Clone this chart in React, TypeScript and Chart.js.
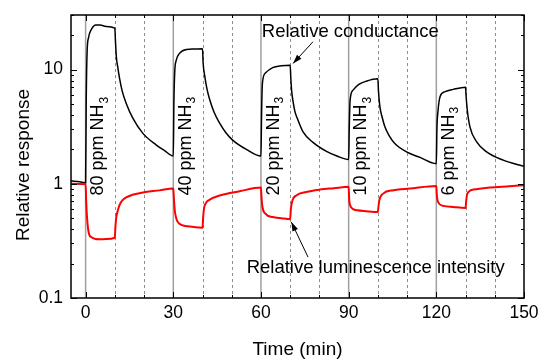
import React, { useEffect, useRef } from 'react';
import { Chart, registerables } from 'chart.js';

Chart.register(...registerables);

// Relative conductance (black)
const condT = [-5, -2, 0, 0.2, 0.5, 1, 2, 3.5, 5, 7, 10,
  10.2, 10.5, 11, 11.6, 12.5, 13.9, 16.2, 19.6, 24.2, 27, 30,
  30.2, 30.5, 31, 32.2, 34.5, 37, 40,
  40.2, 40.8, 41.5, 42.5, 44, 45.9, 48, 50.4, 55, 60,
  60.2, 60.5, 61.5, 64, 67, 70,
  70.2, 70.5, 71, 71.6, 72.5, 74.4, 77.8, 82.4, 86, 90,
  90.2, 90.5, 91.5, 93.5, 96, 100,
  100.2, 100.7, 101.5, 102.4, 104, 105.8, 109.8, 114.4, 120,
  120.2, 120.6, 121.3, 123, 125.8, 130,
  130.2, 130.6, 131.5, 133.8, 137.2, 142.9, 150];
const condV = [1.06, 1.04, 1.02, 5, 14, 19, 22.5, 24.5, 24.5, 23.8, 23.0,
  18, 13, 10.5, 8.4, 6.5, 5.05, 3.73, 2.76, 2.18, 1.95, 1.75,
  5, 9.6, 12, 13.9, 15.0, 15.1, 15.2,
  11.5, 8.65, 6.8, 5.4, 4.2, 3.37, 2.8, 2.4, 2.0, 1.75,
  4, 7.6, 9.3, 10.4, 10.8, 10.9,
  8.5, 6.5, 5.2, 4.3, 3.7, 2.85, 2.3, 1.92, 1.75, 1.63,
  3, 5.4, 6.6, 7.4, 7.9, 8.3,
  6.5, 4.7, 3.8, 3.15, 2.6, 2.25, 1.9, 1.7, 1.5,
  3, 4.4, 5.8, 6.4, 6.7, 7.0,
  5.8, 4.4, 3.15, 2.33, 1.9, 1.61, 1.42];

// Relative luminescence intensity (red)
const lumT = [-5, 0, 0.2, 0.5, 1, 2, 4.8, 7, 10,
  10.2, 10.5, 11, 11.6, 12.5, 13.9, 16, 19.6, 25.3, 30,
  30.2, 30.5, 31, 31.6, 33, 35, 40,
  40.2, 40.5, 41.2, 42.5, 45.9, 52.7, 60,
  60.2, 60.5, 61.5, 64, 67, 70,
  70.2, 70.8, 72.1, 75.5, 80.1, 85, 90,
  90.2, 90.6, 91.5, 93, 96, 100,
  100.2, 100.5, 101.8, 105.3, 111, 120,
  120.2, 120.6, 122.4, 125.8, 130,
  130.2, 130.6, 132.7, 138.4, 145, 150];
const lumV = [1.0, 0.99, 0.7, 0.5, 0.38, 0.34, 0.326, 0.328, 0.337,
  0.42, 0.51, 0.58, 0.65, 0.71, 0.76, 0.8, 0.84, 0.875, 0.91,
  0.75, 0.586, 0.5, 0.46, 0.435, 0.424, 0.413,
  0.5, 0.606, 0.68, 0.726, 0.79, 0.86, 0.927,
  0.75, 0.626, 0.548, 0.511, 0.5, 0.49,
  0.59, 0.717, 0.79, 0.847, 0.889, 0.915, 0.94,
  0.72, 0.64, 0.6, 0.585, 0.575, 0.566,
  0.63, 0.717, 0.82, 0.877, 0.908, 0.957,
  0.78, 0.69, 0.64, 0.626, 0.613,
  0.7, 0.82, 0.889, 0.927, 0.95, 0.97];

const gasOnTimes = [0, 30, 60, 90, 120];
const gasOffTimes = [10, 40, 70, 100, 130];
const purgeMarks = [20, 50, 80, 110, 140];
const concentrations = ['80', '40', '20', '10', '6'];
const xTickValues = [0, 30, 60, 90, 120, 150];
const yTickValues = [0.1, 1, 10];

const FONT = '"Liberation Sans", Arial, Helvetica, sans-serif';

function arrow(ctx: CanvasRenderingContext2D, x1: number, y1: number, x2: number, y2: number) {
  ctx.beginPath();
  ctx.moveTo(x1, y1);
  ctx.lineTo(x2, y2);
  ctx.stroke();
  const ang = Math.atan2(y2 - y1, x2 - x1);
  const len = 9, half = 3;
  ctx.beginPath();
  ctx.moveTo(x2, y2);
  ctx.lineTo(x2 - len * Math.cos(ang) + half * Math.sin(ang), y2 - len * Math.sin(ang) - half * Math.cos(ang));
  ctx.lineTo(x2 - len * Math.cos(ang) - half * Math.sin(ang), y2 - len * Math.sin(ang) + half * Math.cos(ang));
  ctx.closePath();
  ctx.fill();
}

const decor = {
  id: 'decor',
  beforeDatasetsDraw(chart: any) {
    const { ctx, chartArea: a, scales } = chart;
    const x = scales.x;
    ctx.save();
    ctx.strokeStyle = '#a0a0a0';
    ctx.lineWidth = 1.5;
    gasOnTimes.forEach((t) => {
      const px = x.getPixelForValue(t);
      ctx.beginPath();
      ctx.moveTo(px, a.top);
      ctx.lineTo(px, a.bottom);
      ctx.stroke();
    });
    ctx.strokeStyle = '#8c8c8c';
    ctx.lineWidth = 1;
    ctx.setLineDash([3, 3]);
    [...gasOffTimes, ...purgeMarks].forEach((t) => {
      const px = Math.round(x.getPixelForValue(t)) + 0.5;
      ctx.beginPath();
      ctx.moveTo(px, a.top);
      ctx.lineTo(px, a.bottom);
      ctx.stroke();
    });
    ctx.restore();
  },
  afterDatasetsDraw(chart: any) {
    const { ctx, chartArea: a, scales } = chart;
    const x = scales.x;
    const y = scales.y;
    ctx.save();
    // frame
    ctx.strokeStyle = '#000';
    ctx.lineWidth = 1.5;
    ctx.strokeRect(a.left, a.top, a.right - a.left, a.bottom - a.top);
    // y ticks (inward, both sides)
    ctx.lineWidth = 1;
    for (let k = -1; k <= 1; k++) {
      for (let m = 1; m <= 9; m++) {
        const v = m * Math.pow(10, k);
        if (v > 30) continue;
        const py = Math.round(y.getPixelForValue(v)) + 0.5;
        const len = m === 1 ? 6 : 3;
        ctx.beginPath();
        ctx.moveTo(a.left, py);
        ctx.lineTo(a.left + len, py);
        ctx.moveTo(a.right, py);
        ctx.lineTo(a.right - len, py);
        ctx.stroke();
      }
    }
    // x ticks (inward, top and bottom)
    for (let t = 0; t <= 150; t += 10) {
      const px = Math.round(x.getPixelForValue(t)) + 0.5;
      const len = t % 30 === 0 ? 6 : 3;
      ctx.beginPath();
      ctx.moveTo(px, a.bottom);
      ctx.lineTo(px, a.bottom - len);
      ctx.moveTo(px, a.top);
      ctx.lineTo(px, a.top + len);
      ctx.stroke();
    }
    // concentration labels
    ctx.fillStyle = '#000';
    gasOnTimes.forEach((t0, i) => {
      const px = x.getPixelForValue(t0 + 4.4);
      const py = y.getPixelForValue(0.79);
      ctx.save();
      ctx.translate(px, py);
      ctx.rotate(-Math.PI / 2);
      ctx.textAlign = 'left';
      ctx.textBaseline = 'middle';
      ctx.font = `18px ${FONT}`;
      const main = `${concentrations[i]} ppm NH`;
      ctx.fillText(main, 0, 0);
      const w = ctx.measureText(main).width;
      ctx.font = `12px ${FONT}`;
      ctx.fillText('3', w + 1, 6);
      ctx.restore();
    });
    // series annotations
    ctx.font = `18.5px ${FONT}`;
    ctx.textAlign = 'left';
    ctx.textBaseline = 'middle';
    ctx.fillText('Relative conductance', x.getPixelForValue(60.3), y.getPixelForValue(21.3));
    ctx.fillText('Relative luminescence intensity', x.getPixelForValue(55.1), y.getPixelForValue(0.185));
    ctx.strokeStyle = '#000';
    ctx.lineWidth = 1;
    arrow(ctx, x.getPixelForValue(77.8), y.getPixelForValue(17.5), x.getPixelForValue(71), y.getPixelForValue(11.3));
    arrow(ctx, x.getPixelForValue(76.1), y.getPixelForValue(0.228), x.getPixelForValue(70.4), y.getPixelForValue(0.462));
    // y axis title
    ctx.save();
    ctx.translate(a.left - 47, (a.top + a.bottom) / 2 + 8.5);
    ctx.rotate(-Math.PI / 2);
    ctx.textAlign = 'center';
    ctx.textBaseline = 'middle';
    ctx.font = `19px ${FONT}`;
    ctx.fillText('Relative response', 0, 0);
    ctx.restore();
    ctx.restore();
  },
};

const zeroPad = (s: any) => {
  s.paddingTop = 0;
  s.paddingBottom = 0;
  s.paddingLeft = 0;
  s.paddingRight = 0;
};

export default function App() {
  const ref = useRef<HTMLCanvasElement>(null);
  useEffect(() => {
    if (!ref.current) return;
    const chart = new Chart(ref.current, {
      type: 'line',
      data: {
        datasets: [
          {
            label: 'Relative luminescence intensity',
            data: lumT.map((t, i) => ({ x: t, y: lumV[i] })),
            borderColor: '#ff0000',
            borderWidth: 2,
            pointRadius: 0,
            cubicInterpolationMode: 'monotone',
            fill: false,
          },
          {
            label: 'Relative conductance',
            data: condT.map((t, i) => ({ x: t, y: condV[i] })),
            borderColor: '#000000',
            borderWidth: 1.5,
            pointRadius: 0,
            cubicInterpolationMode: 'monotone',
            fill: false,
          },
        ],
      },
      options: {
        animation: false,
        responsive: false,
        maintainAspectRatio: false,
        layout: { padding: { top: 15, right: 15, left: 0, bottom: 0 } },
        plugins: { legend: { display: false }, tooltip: { enabled: false } },
        scales: {
          x: {
            type: 'linear',
            min: -5,
            max: 150,
            afterBuildTicks: (s: any) => { s.ticks = xTickValues.map((v) => ({ value: v })); },
            afterFit: (s: any) => { s.height = 62; zeroPad(s); },
            grid: { display: false, drawTicks: false },
            border: { display: false },
            ticks: { color: '#000', font: { family: FONT, size: 17.5 }, padding: 5, maxRotation: 0, autoSkip: false },
            title: { display: true, text: 'Time (min)', color: '#000', font: { family: FONT, size: 19, lineHeight: 1.1 }, padding: { top: 0, bottom: 0 } },
          },
          y: {
            type: 'logarithmic',
            min: 0.1,
            max: 30,
            afterBuildTicks: (s: any) => { s.ticks = yTickValues.map((v) => ({ value: v })); },
            afterFit: (s: any) => { s.width = 71; zeroPad(s); },
            grid: { display: false, drawTicks: false },
            border: { display: false },
            ticks: { color: '#000', font: { family: FONT, size: 17.5 }, padding: 8, autoSkip: false, callback: (v: any) => String(v) },
            title: { display: false },
          },
        },
      },
      plugins: [decor],
    });
    return () => chart.destroy();
  }, []);
  return (
    <div style={{ position: 'absolute', left: 0, top: 0, width: 539, height: 360, background: '#fff' }}>
      <canvas ref={ref} width={539} height={360} style={{ width: 539, height: 360, display: 'block' }} />
    </div>
  );
}
